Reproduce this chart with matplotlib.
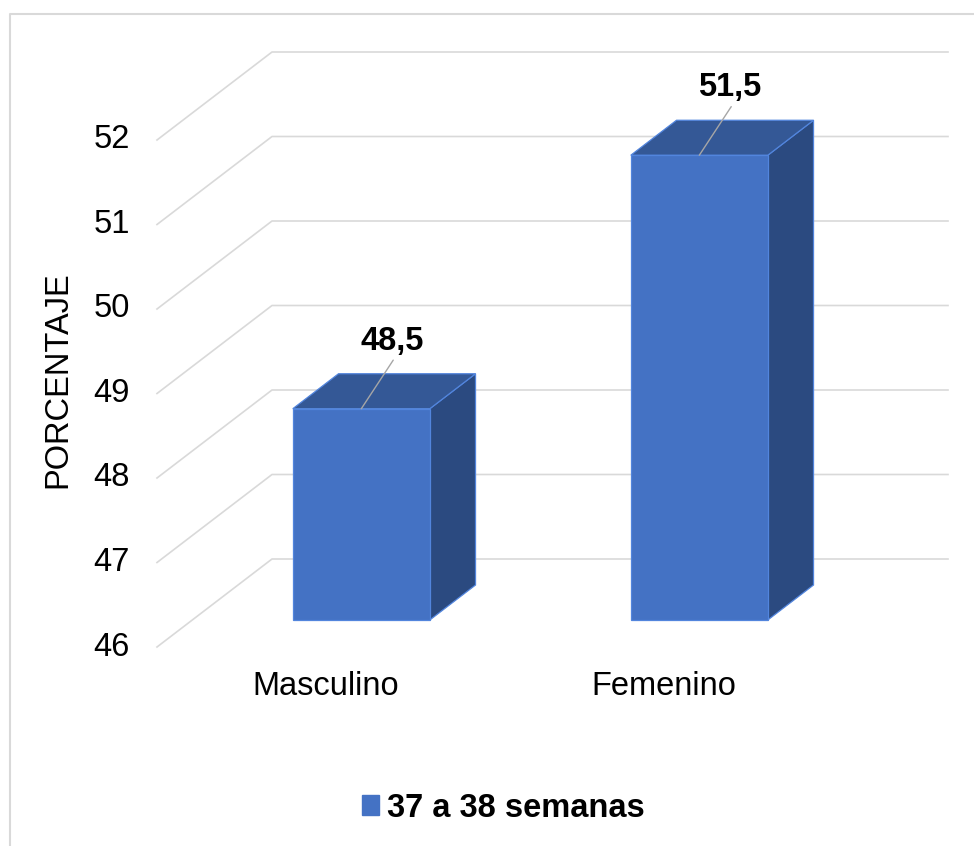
import matplotlib
matplotlib.use("Agg")
import matplotlib.pyplot as plt
from matplotlib.patches import Polygon, Patch
from matplotlib.lines import Line2D
import matplotlib.transforms as mtransforms

# ---- data ----
categories = ["Masculino", "Femenino"]
values = [48.5, 51.5]
value_labels = ["48,5", "51,5"]
yticks = [46, 47, 48, 49, 50, 51, 52]
series_name = "37 a 38 semanas"
ylabel = "PORCENTAJE"

plt.rcParams['font.family'] = ['Liberation Sans', 'DejaVu Sans']
FS = 23.5

W, H = 974, 846
fig = plt.figure(figsize=(W / 100, H / 100), dpi=100)
fig.patch.set_facecolor("white")

# front plane geometry (pixels)
x_left, x_right = 157, 833
y_bottom, y_top = 647, 140  # from top of image
ax = fig.add_axes([x_left / W, (H - y_bottom) / H, (x_right - x_left) / W, (y_bottom - y_top) / H])
ax.set_xlim(0, len(categories))
ax.set_ylim(yticks[0], yticks[-1])
ax.axis("off")

px_per_x = (x_right - x_left) / len(categories)
px_per_y = (y_bottom - y_top) / (yticks[-1] - yticks[0])
# full depth of the plot box, converted to data units
DX = 115 / px_per_x
DY = 88 / px_per_y
d_front = 27 / 88
d_back = 62 / 88
half_w = 137 / 2 / px_per_x

grid_c = "#D9D9D9"
for v in yticks:
    ax.add_line(Line2D([0, DX, len(categories) + DX], [v, v + DY, v + DY],
                       color=grid_c, lw=1.2, clip_on=False, zorder=1))

def pt(x, y, d):
    return (x + d * DX, y + d * DY)

front_c = "#4472C4"
top_c = "#345896"
side_c = "#2B4A80"
edge_c = "#5285DD"
base = yticks[0]
for i, v in enumerate(values):
    c = i + 0.5
    xl, xr = c - half_w, c + half_w
    side = [pt(xr, base, d_front), pt(xr, base, d_back), pt(xr, v, d_back), pt(xr, v, d_front)]
    top = [pt(xl, v, d_front), pt(xr, v, d_front), pt(xr, v, d_back), pt(xl, v, d_back)]
    front = [pt(xl, base, d_front), pt(xr, base, d_front), pt(xr, v, d_front), pt(xl, v, d_front)]
    for poly, col in ((side, side_c), (top, top_c), (front, front_c)):
        ax.add_patch(Polygon(poly, closed=True, facecolor=col, edgecolor=edge_c,
                             lw=0.9, clip_on=False, zorder=3))
    # data label with leader line
    anchor = pt(c, v, d_front)
    ax.annotate("", xy=anchor, xytext=(23, 35), textcoords="offset points",
                arrowprops=dict(arrowstyle="-", color="#A6A6A6", lw=1.0,
                                shrinkA=0, shrinkB=0), zorder=4, annotation_clip=False)
    ax.annotate(value_labels[i], xy=anchor, xytext=(22, 48.5), textcoords="offset points",
                ha="center", va="center", fontsize=FS, fontweight="bold", color="black",
                zorder=5, annotation_clip=False)

# y tick labels
off_y = mtransforms.ScaledTranslation(-27 / 100, 0, fig.dpi_scale_trans)
for v in yticks:
    ax.text(0, v, str(v), transform=ax.transData + off_y, ha="right", va="center",
            fontsize=FS, color="black")

# category labels
off_x = mtransforms.ScaledTranslation(0, -39 / 100, fig.dpi_scale_trans)
for i, cat in enumerate(categories):
    ax.text(i + 0.5, base, cat, transform=ax.transData + off_x, ha="center", va="center",
            fontsize=FS, color="black")

fig.text(58 / W, 1 - 380 / H, ylabel, rotation=90, ha="center", va="center",
         fontsize=FS, color="black")

# legend
leg = fig.legend(handles=[Patch(facecolor=front_c, edgecolor=front_c)], labels=[series_name],
                 loc="center", bbox_to_anchor=(503 / W, 1 - 808 / H), frameon=False,
                 handlelength=0.52, handleheight=0.58, handletextpad=0.25,
                 prop=dict(size=FS, weight="bold"))

# chart frame (left and top visible)
fig.add_artist(Line2D([10 / W, 10 / W, 1.01], [0, 1 - 14 / H, 1 - 14 / H],
                      transform=fig.transFigure, color=grid_c, lw=1.5))

fig.savefig("out.png", dpi=100, facecolor="white")
